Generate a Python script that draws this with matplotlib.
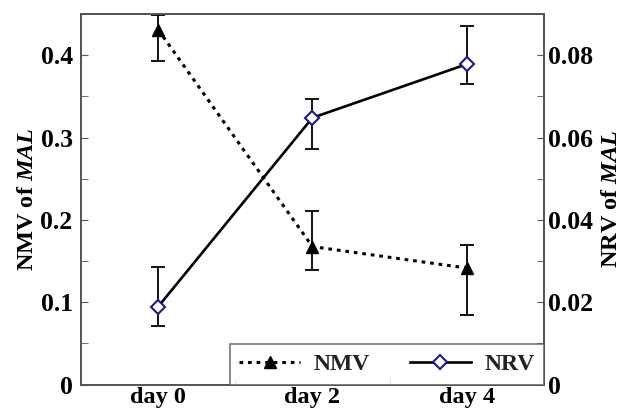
import matplotlib
matplotlib.use('Agg')
import matplotlib.pyplot as plt
from matplotlib.ticker import MultipleLocator, FuncFormatter

plt.rcParams['font.family'] = 'Liberation Serif'
plt.rcParams['font.weight'] = 'bold'
plt.rcParams['mathtext.fontset'] = 'custom'
plt.rcParams['mathtext.rm'] = 'Liberation Serif:bold'
plt.rcParams['mathtext.it'] = 'Liberation Serif:italic:bold'

# Data
days = [0, 2, 4]
day_labels = ['day 0', 'day 2', 'day 4']

nmv = [0.431, 0.1675, 0.1415]
nmv_lo = [0.393, 0.139, 0.0845]
nmv_hi = [0.449, 0.211, 0.170]

nrv = [0.0189, 0.0648, 0.0778]
nrv_lo = [0.0142, 0.0572, 0.0730]
nrv_hi = [0.0285, 0.0693, 0.0871]

spine_col = '#555555'

fig = plt.figure(figsize=(6.28, 4.12), dpi=100)
ax = fig.add_axes([0.129, 0.0667, 0.737, 0.8993])
ax2 = ax.twinx()

nmv_err = [[v - lo for v, lo in zip(nmv, nmv_lo)], [hi - v for v, hi in zip(nmv, nmv_hi)]]
nrv_err = [[v - lo for v, lo in zip(nrv, nrv_lo)], [hi - v for v, hi in zip(nrv, nrv_hi)]]

ax.errorbar(days, nmv, yerr=nmv_err, fmt='none', ecolor='black', elinewidth=1.3,
            capsize=5, capthick=1.3)
l1, = ax.plot(days, nmv, color='black', linewidth=2.2, linestyle=(0, (1.2, 1.6)),
              marker='^', markersize=9, markerfacecolor='black', markeredgecolor='black',
              label='NMV')

ax2.errorbar(days, nrv, yerr=nrv_err, fmt='none', ecolor='black', elinewidth=1.3,
             capsize=5, capthick=1.3)
l2, = ax2.plot(days, nrv, color='black', linewidth=1.9, linestyle='-',
               marker='D', markersize=7.5, markerfacecolor='white', markeredgecolor='#1a1a80',
               markeredgewidth=1.5, label='NRV')

ax.set_xlim(-1, 5)
ax.set_ylim(0, 0.45)
ax2.set_ylim(0, 0.09)

ax.set_xticks(days)
ax.set_xticklabels(day_labels)
ax.set_xticks([1, 3], minor=True)
ax.tick_params(axis='x', which='major', length=0, pad=1.5, labelsize=17.5)
ax.tick_params(axis='x', which='minor', direction='in', length=4, color=spine_col)

fmt = FuncFormatter(lambda v, p: '0' if abs(v) < 1e-9 else f'{v:g}')
ax.yaxis.set_major_locator(MultipleLocator(0.1))
ax.yaxis.set_minor_locator(MultipleLocator(0.05))
ax.yaxis.set_major_formatter(fmt)
ax.tick_params(axis='y', which='both', direction='in', length=5, color=spine_col,
               labelsize=18.5, pad=6)

ax2.yaxis.set_major_locator(MultipleLocator(0.02))
ax2.yaxis.set_minor_locator(MultipleLocator(0.01))
ax2.yaxis.set_major_formatter(fmt)
ax2.tick_params(axis='y', which='both', direction='in', length=5, color=spine_col,
                labelsize=18.5, pad=3)

for a in (ax, ax2):
    for s in a.spines.values():
        s.set_color(spine_col)
        s.set_linewidth(1.3)

ax.set_ylabel(r'NMV of $\mathit{MAL}$', fontsize=17.5, fontweight='bold', labelpad=2)
ax2.set_ylabel(r'NRV of $\mathit{MAL}$', fontsize=17.5, fontweight='bold', labelpad=6)

leg = ax2.legend(handles=[l1, l2], loc='lower right', ncol=2, fontsize=17,
                 frameon=True, fancybox=False, borderaxespad=0, handlelength=2.6,
                 columnspacing=1.7, handletextpad=0.55, borderpad=0.4)
leg.get_frame().set_edgecolor(spine_col)
leg.get_frame().set_linewidth(1.2)
for t in leg.get_texts():
    t.set_color('#222222')

fig.savefig('out.png', dpi=100)
